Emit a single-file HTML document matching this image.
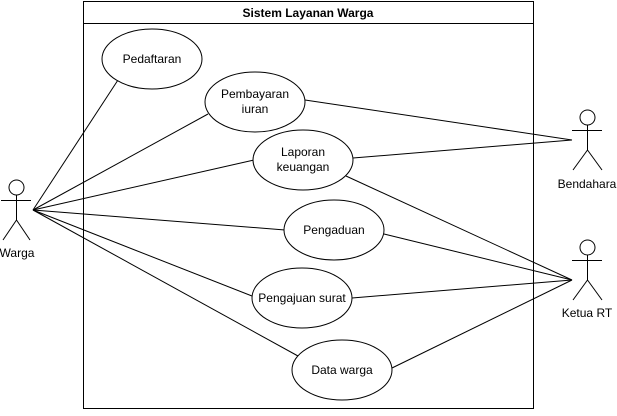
<!DOCTYPE html>
<html><head><meta charset="utf-8"><style>
body{margin:0;background:#fff}
svg text{font-family:"Liberation Sans",Arial,sans-serif;font-size:12px;fill:#000}
</style></head><body>
<svg width="617" height="411" viewBox="0 0 617 411" xmlns="http://www.w3.org/2000/svg">
<g stroke="#000" fill="none" stroke-width="1">
<rect x="83.5" y="1.5" width="450" height="407" fill="#fff"/>
<line x1="83.5" y1="23.5" x2="533.5" y2="23.5"/>
<g>
<line x1="33" y1="210" x2="118" y2="80"/>
<line x1="33" y1="210" x2="208" y2="114"/>
<line x1="33" y1="210" x2="254" y2="160"/>
<line x1="33" y1="210" x2="285" y2="230"/>
<line x1="33" y1="210" x2="257" y2="298"/>
<line x1="33" y1="210" x2="298" y2="356"/>
<line x1="572" y1="140" x2="305" y2="100"/>
<line x1="572" y1="140" x2="353" y2="158"/>
<line x1="572" y1="280" x2="346" y2="176"/>
<line x1="572" y1="280" x2="384" y2="234"/>
<line x1="572" y1="280" x2="352" y2="298"/>
<line x1="572" y1="280" x2="392" y2="368"/>
</g>
<g fill="#fff">
<ellipse cx="152" cy="59" rx="50" ry="30"/>
<ellipse cx="255" cy="102" rx="50" ry="30"/>
<ellipse cx="303" cy="160" rx="50" ry="30"/>
<ellipse cx="334" cy="230" rx="50" ry="30"/>
<ellipse cx="302" cy="298" rx="50" ry="30"/>
<ellipse cx="342" cy="370" rx="50" ry="30"/>
</g>
<g>
<circle cx="16.5" cy="187.5" r="7.5" fill="#fff"/>
<line x1="16.5" y1="195" x2="16.5" y2="220"/>
<line x1="1" y1="200.5" x2="31" y2="200.5"/>
<line x1="16.5" y1="220" x2="3" y2="240"/>
<line x1="16.5" y1="220" x2="30" y2="240"/>
</g>
<g>
<circle cx="587.5" cy="117.5" r="7.5" fill="#fff"/>
<line x1="587.5" y1="125" x2="587.5" y2="150"/>
<line x1="572" y1="130.5" x2="602" y2="130.5"/>
<line x1="587.5" y1="150" x2="573" y2="170"/>
<line x1="587.5" y1="150" x2="602" y2="170"/>
</g>
<g>
<circle cx="587.5" cy="247.5" r="7.5" fill="#fff"/>
<line x1="587.5" y1="255" x2="587.5" y2="280"/>
<line x1="572" y1="260.5" x2="602" y2="260.5"/>
<line x1="587.5" y1="280" x2="573" y2="300"/>
<line x1="587.5" y1="280" x2="602" y2="300"/>
</g>
</g>
<text x="308" y="17" text-anchor="middle" font-weight="bold">Sistem Layanan Warga</text>
<g text-anchor="middle">
<text x="152" y="63">Pedaftaran</text>
<text x="255" y="98">Pembayaran</text><text x="255" y="113">iuran</text>
<text x="303" y="156">Laporan</text><text x="303" y="171">keuangan</text>
<text x="334" y="234">Pengaduan</text>
<text x="302" y="302">Pengajuan surat</text>
<text x="342" y="374">Data warga</text>
<text x="17" y="257">Warga</text>
<text x="587" y="188">Bendahara</text>
<text x="587" y="317">Ketua RT</text>
</g>
</svg>
</body></html>
